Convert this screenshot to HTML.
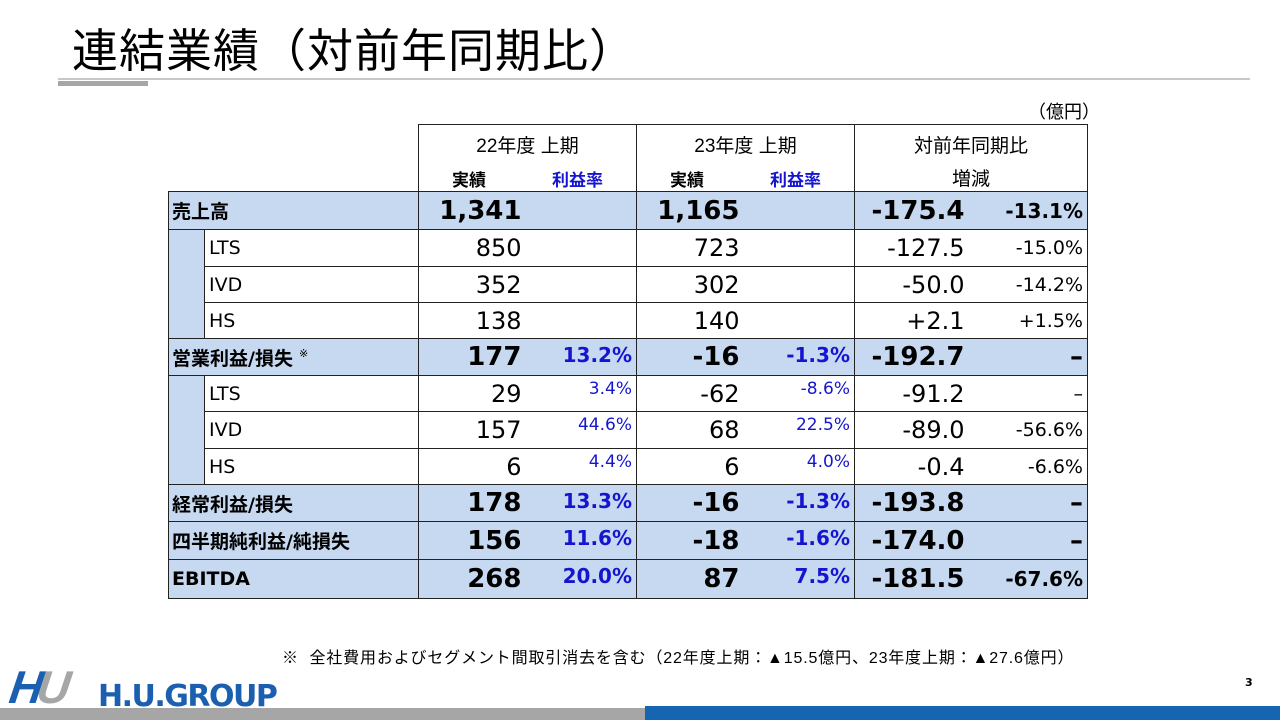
<!DOCTYPE html>
<html><head><meta charset="utf-8">
<style>
body{margin:0;width:1280px;height:720px;position:relative;background:#fff;overflow:hidden;font-family:"DejaVu Sans","Noto Sans CJK JP",sans-serif;color:#000}
.title{position:absolute;left:72px;top:15px;font-size:46px;font-family:"Liberation Sans","Noto Sans CJK JP",sans-serif;letter-spacing:1px}
.rule{position:absolute;left:58px;top:78px;width:1192px;height:2px;background:#c8c8c8}
.rule2{position:absolute;left:58px;top:81px;width:90px;height:5px;background:#a6a6a6}
.unit{position:absolute;left:1028px;top:98px;font-size:18px;font-family:"Liberation Sans","Noto Sans CJK JP",sans-serif}
table{position:absolute;left:168px;top:124px;border-collapse:collapse;table-layout:fixed}
td{border:1.5px solid #222;padding:0;white-space:nowrap;overflow:hidden}
.b{background:#c6d9f0}
.n{font-size:24px;text-align:right;padding-right:6px}
.nb{font-size:26px;font-weight:bold;text-align:right;padding-right:6px}
.m{font-size:17px;color:#1515d0;text-align:right;padding-right:4px;vertical-align:top;padding-top:3px}
.mb{font-size:20px;font-weight:bold;color:#1515d0;text-align:right;padding-right:4px;vertical-align:top;padding-top:4px}
.p{font-size:19px;text-align:right;padding-right:4px}
.pb{font-size:20px;font-weight:bold;text-align:right;padding-right:4px}
.lab{font-size:19px;padding-left:4px}
.labb{font-size:19px;font-weight:bold;padding-left:3px}
.hd{text-align:center;font-size:19px;font-family:"Liberation Sans","Noto Sans CJK JP",sans-serif;vertical-align:top}
.nl{border-left:none}.nr{border-right:none}
.foot{position:absolute;left:282px;top:644px;font-size:16px;letter-spacing:0.85px;font-family:"Liberation Sans","Noto Sans CJK JP",sans-serif}
.pg{position:absolute;left:1245px;top:676px;font-size:11px;font-weight:bold}
</style></head><body>
<div class="title">連結業績（対前年同期比）</div>
<div class="rule"></div>
<div class="rule2"></div>
<div class="unit">（億円）</div>
<table>
<colgroup><col style="width:36px"><col style="width:214px"><col style="width:109px"><col style="width:109px"><col style="width:109px"><col style="width:109px"><col style="width:116px"><col style="width:117px"></colgroup>
<tr style="height:67px">
<td colspan="2" style="border:none;border-bottom:1.5px solid #222"></td>
<td colspan="2" class="hd"><div style="margin-top:6px">22年度&nbsp;上期</div><div style="display:flex;justify-content:space-around;font-weight:bold;font-size:17px;margin-top:8px"><span>実績</span><span style="color:#1515d0">利益率</span></div></td>
<td colspan="2" class="hd"><div style="margin-top:6px">23年度&nbsp;上期</div><div style="display:flex;justify-content:space-around;font-weight:bold;font-size:17px;margin-top:8px"><span>実績</span><span style="color:#1515d0">利益率</span></div></td>
<td colspan="2" class="hd"><div style="margin-top:6px">対前年同期比</div><div style="margin-top:6px">増減</div></td>
</tr>
<tr style="height:38px" class="b"><td colspan="2" class="labb">売上高</td><td class="nb nr">1,341</td><td class="mb nl"></td><td class="nb nr">1,165</td><td class="mb nl"></td><td class="nb nr">-175.4</td><td class="pb nl">-13.1%</td></tr>
<tr style="height:37px"><td rowspan="3" class="b"></td><td class="lab">LTS</td><td class="n nr">850</td><td class="m nl"></td><td class="n nr">723</td><td class="m nl"></td><td class="n nr">-127.5</td><td class="p nl">-15.0%</td></tr>
<tr style="height:36px"><td class="lab">IVD</td><td class="n nr">352</td><td class="m nl"></td><td class="n nr">302</td><td class="m nl"></td><td class="n nr">-50.0</td><td class="p nl">-14.2%</td></tr>
<tr style="height:36px"><td class="lab">HS</td><td class="n nr">138</td><td class="m nl"></td><td class="n nr">140</td><td class="m nl"></td><td class="n nr">+2.1</td><td class="p nl">+1.5%</td></tr>
<tr style="height:37px" class="b"><td colspan="2" class="labb">営業利益/損失<sup style="font-size:11px;font-weight:normal;margin-left:6px">※</sup></td><td class="nb nr">177</td><td class="mb nl">13.2%</td><td class="nb nr">-16</td><td class="mb nl">-1.3%</td><td class="nb nr">-192.7</td><td class="pb nl" style="font-size:26px">–</td></tr>
<tr style="height:36px"><td rowspan="3" class="b"></td><td class="lab">LTS</td><td class="n nr">29</td><td class="m nl">3.4%</td><td class="n nr">-62</td><td class="m nl">-8.6%</td><td class="n nr">-91.2</td><td class="p nl">–</td></tr>
<tr style="height:37px"><td class="lab">IVD</td><td class="n nr">157</td><td class="m nl">44.6%</td><td class="n nr">68</td><td class="m nl">22.5%</td><td class="n nr">-89.0</td><td class="p nl">-56.6%</td></tr>
<tr style="height:36px"><td class="lab">HS</td><td class="n nr">6</td><td class="m nl">4.4%</td><td class="n nr">6</td><td class="m nl">4.0%</td><td class="n nr">-0.4</td><td class="p nl">-6.6%</td></tr>
<tr style="height:37px" class="b"><td colspan="2" class="labb">経常利益/損失</td><td class="nb nr">178</td><td class="mb nl">13.3%</td><td class="nb nr">-16</td><td class="mb nl">-1.3%</td><td class="nb nr">-193.8</td><td class="pb nl" style="font-size:26px">–</td></tr>
<tr style="height:38px" class="b"><td colspan="2" class="labb">四半期純利益/純損失</td><td class="nb nr">156</td><td class="mb nl">11.6%</td><td class="nb nr">-18</td><td class="mb nl">-1.6%</td><td class="nb nr">-174.0</td><td class="pb nl" style="font-size:26px">–</td></tr>
<tr style="height:39px" class="b"><td colspan="2" class="labb">EBITDA</td><td class="nb nr">268</td><td class="mb nl">20.0%</td><td class="nb nr">87</td><td class="mb nl">7.5%</td><td class="nb nr">-181.5</td><td class="pb nl">-67.6%</td></tr>
</table>
<div class="foot">※&nbsp;&nbsp;全社費用およびセグメント間取引消去を含む（22年度上期：▲15.5億円、23年度上期：▲27.6億円）</div>
<div style="position:absolute;left:10px;top:664px;font-family:'Liberation Sans',sans-serif;font-weight:bold;font-style:italic;font-size:46px;line-height:46px;transform:skewX(-8deg)"><span style="color:#1a5fb0;letter-spacing:-6px">H</span><span style="color:#a6a6a6">U</span></div>
<div style="position:absolute;left:98px;top:680px;font-family:'DejaVu Sans',sans-serif;font-weight:bold;font-size:30px;line-height:34px;color:#1a5fb0;letter-spacing:-1.5px">H.U.GROUP</div>
<div class="pg">3</div>
<div style="position:absolute;left:0;top:708px;width:645px;height:12px;background:#a6a6a6"></div>
<div style="position:absolute;left:645px;top:706px;width:635px;height:14px;background:#1565b0"></div>
</body></html>
